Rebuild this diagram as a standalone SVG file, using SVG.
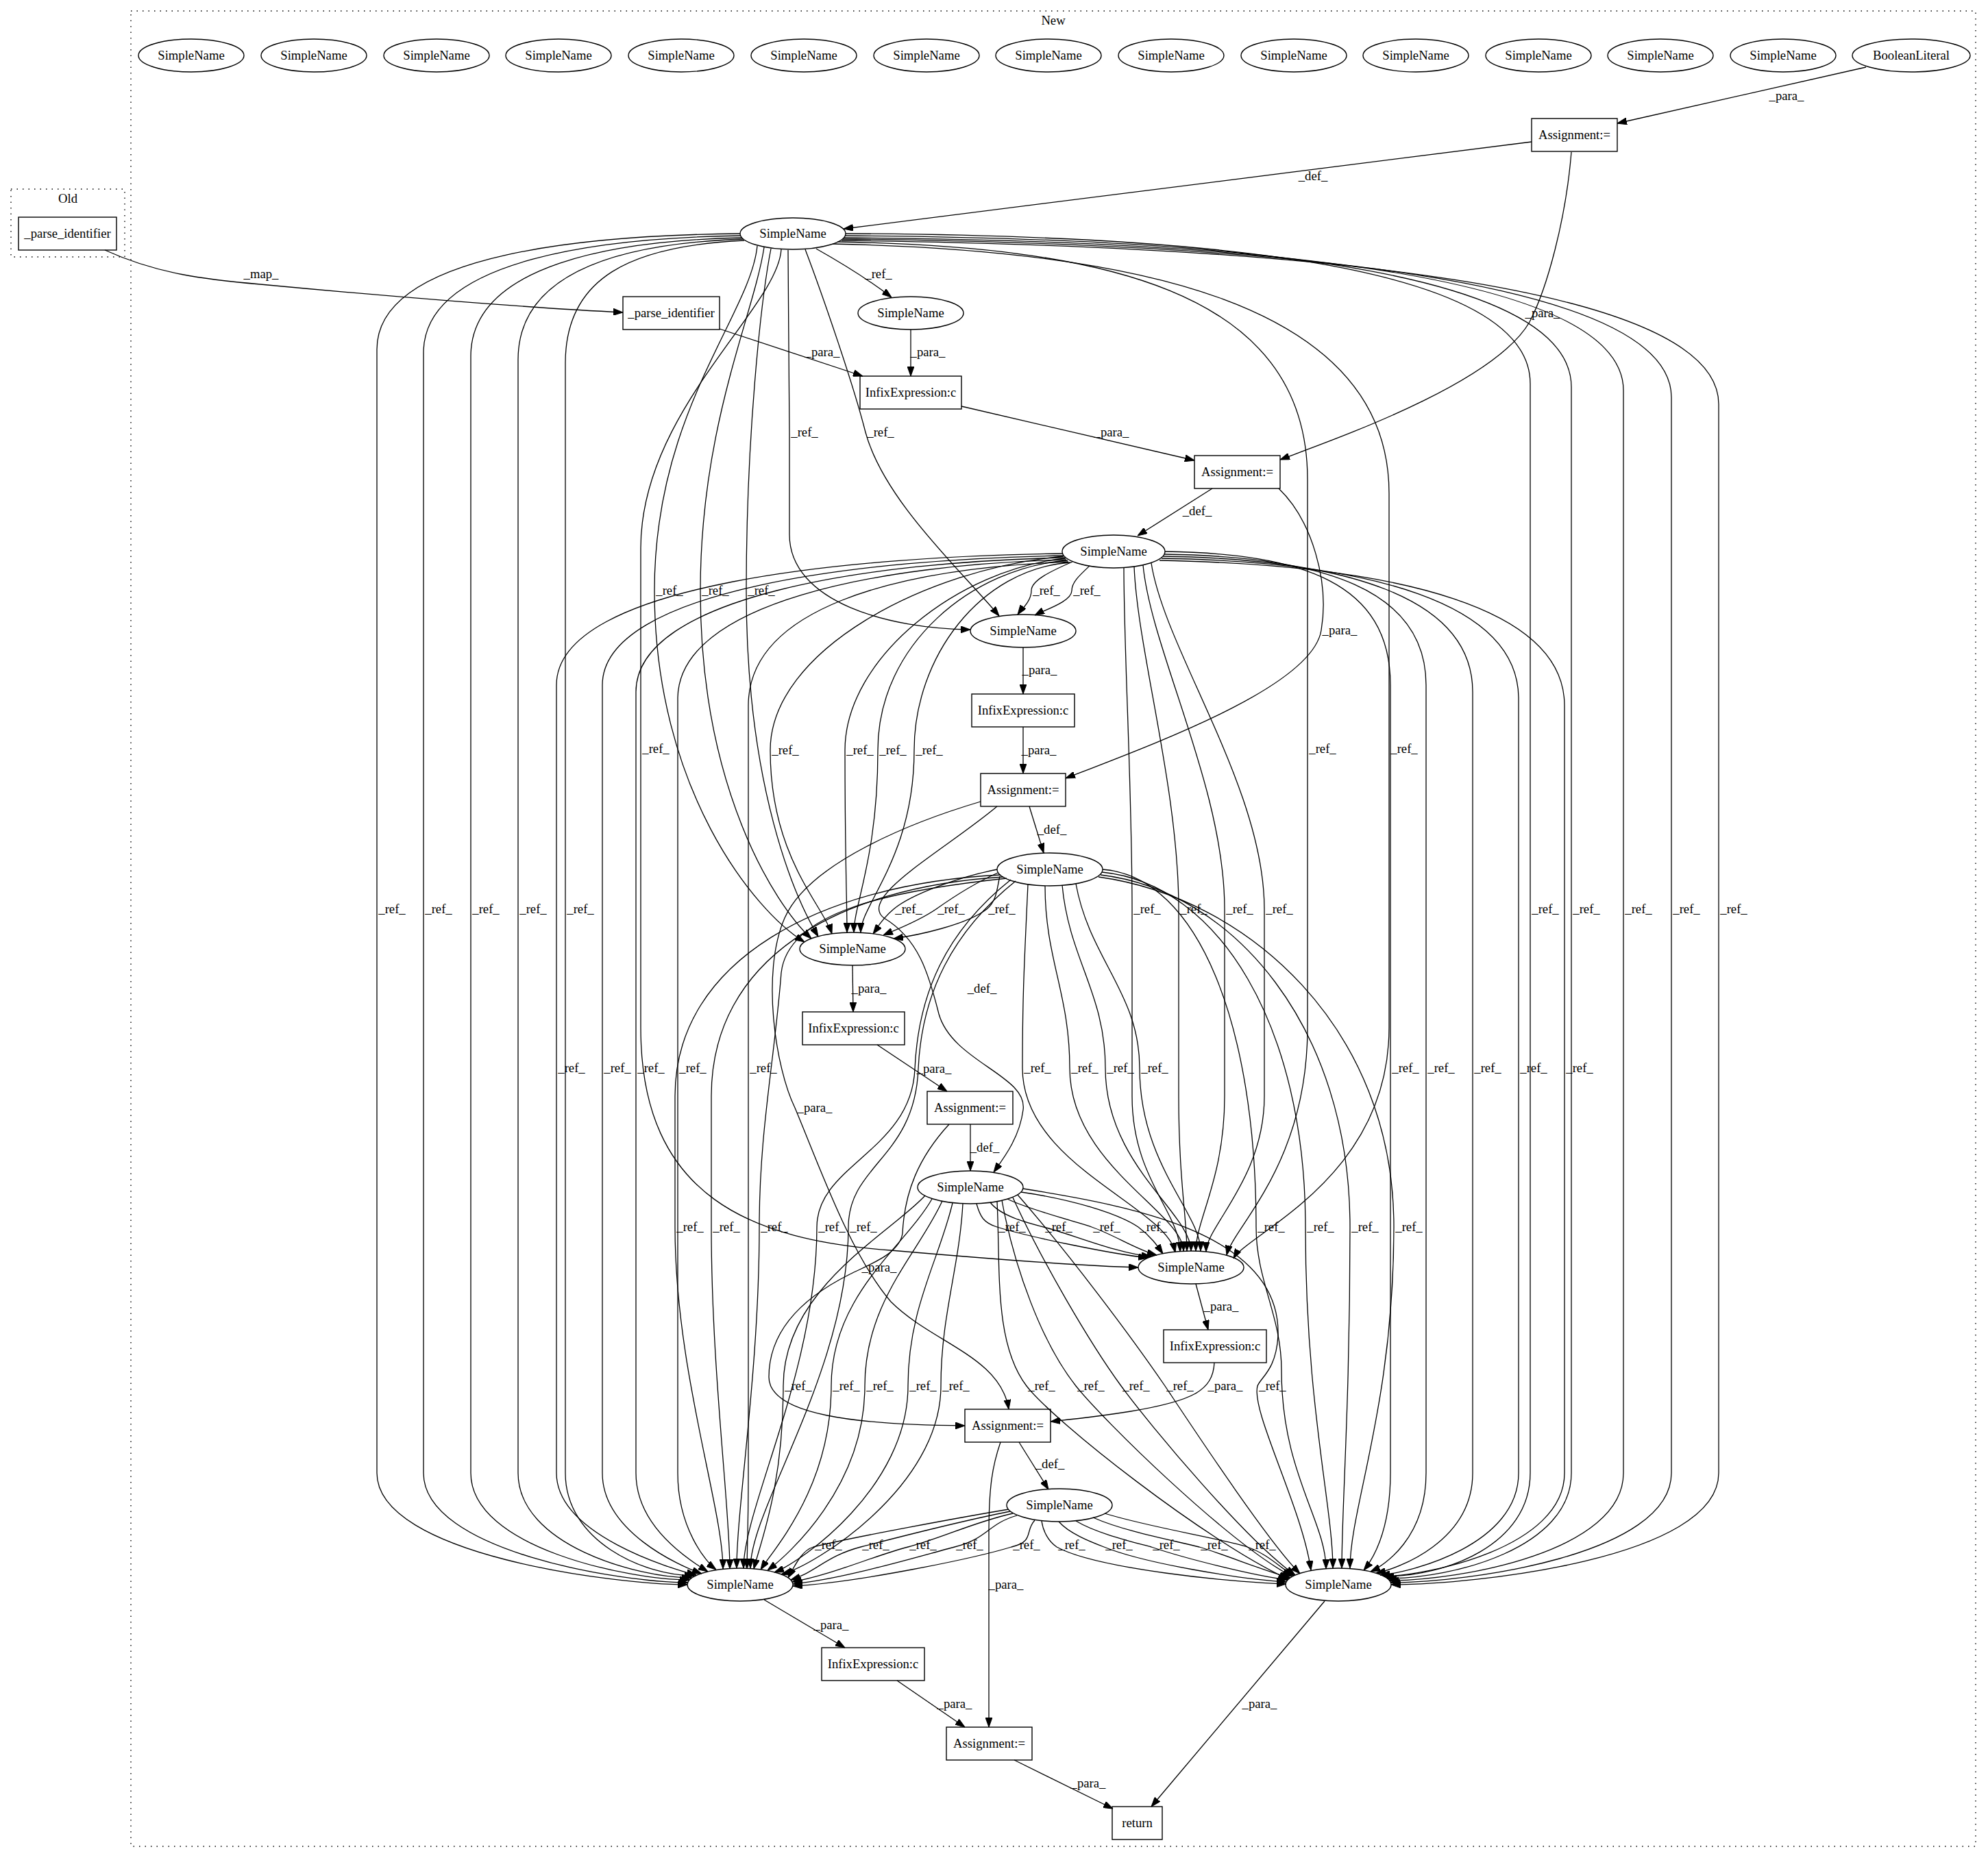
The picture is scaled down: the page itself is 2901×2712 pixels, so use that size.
<svg xmlns="http://www.w3.org/2000/svg" width="2901" height="2712" viewBox="0 0 2901 2712">
<defs>
<marker id="arr" markerUnits="userSpaceOnUse" viewBox="0 0 14 10" markerWidth="14" markerHeight="10" refX="14" refY="5" orient="auto"><path d="M0,0 L14,5 L0,10 z" fill="#000" stroke="#000" stroke-width="1"/></marker>
</defs>
<style>
text{font-family:"Liberation Serif","Times New Roman",serif;font-size:18.67px;text-anchor:middle;fill:#000}
.node ellipse,.node rect{fill:none;stroke:#000;stroke-width:1.4}
.cl{fill:none;stroke:#000;stroke-width:1.4;stroke-dasharray:1.5 7}
#edges path{fill:none;stroke:#000;stroke-width:1.3;marker-end:url(#arr)}
</style>
<rect width="2901" height="2712" fill="#fff"/>
<g id="cluster_old"><rect class="cl" x="16" y="276" width="166" height="99"/><text x="99" y="296">Old</text></g>
<g id="cluster_new"><rect class="cl" x="191" y="16" width="2692" height="2679"/><text x="1537" y="36">New</text></g>

<g id="nodes">
<g id="n_top1" class="node"><ellipse cx="279" cy="81" rx="77" ry="24"/><text x="279" y="87">SimpleName</text></g>
<g id="n_top2" class="node"><ellipse cx="458" cy="81" rx="77" ry="24"/><text x="458" y="87">SimpleName</text></g>
<g id="n_top3" class="node"><ellipse cx="637" cy="81" rx="77" ry="24"/><text x="637" y="87">SimpleName</text></g>
<g id="n_top4" class="node"><ellipse cx="815" cy="81" rx="77" ry="24"/><text x="815" y="87">SimpleName</text></g>
<g id="n_top5" class="node"><ellipse cx="994" cy="81" rx="77" ry="24"/><text x="994" y="87">SimpleName</text></g>
<g id="n_top6" class="node"><ellipse cx="1173" cy="81" rx="77" ry="24"/><text x="1173" y="87">SimpleName</text></g>
<g id="n_top7" class="node"><ellipse cx="1352" cy="81" rx="77" ry="24"/><text x="1352" y="87">SimpleName</text></g>
<g id="n_top8" class="node"><ellipse cx="1530" cy="81" rx="77" ry="24"/><text x="1530" y="87">SimpleName</text></g>
<g id="n_top9" class="node"><ellipse cx="1709" cy="81" rx="77" ry="24"/><text x="1709" y="87">SimpleName</text></g>
<g id="n_top10" class="node"><ellipse cx="1888" cy="81" rx="77" ry="24"/><text x="1888" y="87">SimpleName</text></g>
<g id="n_top11" class="node"><ellipse cx="2066" cy="81" rx="77" ry="24"/><text x="2066" y="87">SimpleName</text></g>
<g id="n_top12" class="node"><ellipse cx="2245" cy="81" rx="77" ry="24"/><text x="2245" y="87">SimpleName</text></g>
<g id="n_top13" class="node"><ellipse cx="2423" cy="81" rx="77" ry="24"/><text x="2423" y="87">SimpleName</text></g>
<g id="n_top14" class="node"><ellipse cx="2602" cy="81" rx="77" ry="24"/><text x="2602" y="87">SimpleName</text></g>
<g id="n_bool" class="node"><ellipse cx="2789" cy="81" rx="86" ry="24"/><text x="2789" y="87">BooleanLiteral</text></g>
<g id="n_asg1" class="node"><rect x="2235" y="173" width="125" height="48"/><text x="2297.5" y="203">Assignment:=</text></g>
<g id="n_a" class="node"><ellipse cx="1157" cy="341" rx="77" ry="23"/><text x="1157" y="347">SimpleName</text></g>
<g id="n_parse_old" class="node"><rect x="27" y="317" width="143" height="48"/><text x="98.5" y="347">_parse_identifier</text></g>
<g id="n_parse_new" class="node"><rect x="909" y="433" width="141" height="48"/><text x="979.5" y="463">_parse_identifier</text></g>
<g id="n_b" class="node"><ellipse cx="1329" cy="457" rx="77" ry="24"/><text x="1329" y="463">SimpleName</text></g>
<g id="n_infix1" class="node"><rect x="1255" y="549" width="148" height="48"/><text x="1329" y="579">InfixExpression:c</text></g>
<g id="n_asg2" class="node"><rect x="1743" y="665" width="125" height="48"/><text x="1805.5" y="695">Assignment:=</text></g>
<g id="n_c" class="node"><ellipse cx="1625" cy="805" rx="75" ry="24"/><text x="1625" y="811">SimpleName</text></g>
<g id="n_d" class="node"><ellipse cx="1493" cy="921" rx="77" ry="24"/><text x="1493" y="927">SimpleName</text></g>
<g id="n_infix2" class="node"><rect x="1418" y="1013" width="150" height="48"/><text x="1493" y="1043">InfixExpression:c</text></g>
<g id="n_asg3" class="node"><rect x="1431" y="1129" width="124" height="48"/><text x="1493" y="1159">Assignment:=</text></g>
<g id="n_e" class="node"><ellipse cx="1532" cy="1269" rx="77" ry="24"/><text x="1532" y="1275">SimpleName</text></g>
<g id="n_f" class="node"><ellipse cx="1244" cy="1385" rx="77" ry="24"/><text x="1244" y="1391">SimpleName</text></g>
<g id="n_infix3" class="node"><rect x="1171" y="1477" width="149" height="48"/><text x="1245.5" y="1507">InfixExpression:c</text></g>
<g id="n_asg4" class="node"><rect x="1353" y="1593" width="125" height="48"/><text x="1415.5" y="1623">Assignment:=</text></g>
<g id="n_g" class="node"><ellipse cx="1416" cy="1733" rx="77" ry="24"/><text x="1416" y="1739">SimpleName</text></g>
<g id="n_h" class="node"><ellipse cx="1738" cy="1850" rx="77" ry="24"/><text x="1738" y="1856">SimpleName</text></g>
<g id="n_infix4" class="node"><rect x="1698" y="1941" width="150" height="48"/><text x="1773" y="1971">InfixExpression:c</text></g>
<g id="n_asg5" class="node"><rect x="1408" y="2057" width="125" height="48"/><text x="1470.5" y="2087">Assignment:=</text></g>
<g id="n_i" class="node"><ellipse cx="1546" cy="2197" rx="77" ry="24"/><text x="1546" y="2203">SimpleName</text></g>
<g id="n_j" class="node"><ellipse cx="1080" cy="2313" rx="77" ry="24"/><text x="1080" y="2319">SimpleName</text></g>
<g id="n_k" class="node"><ellipse cx="1953" cy="2313" rx="77" ry="24"/><text x="1953" y="2319">SimpleName</text></g>
<g id="n_infix5" class="node"><rect x="1199" y="2405" width="150" height="48"/><text x="1274" y="2435">InfixExpression:c</text></g>
<g id="n_asg6" class="node"><rect x="1381" y="2521" width="125" height="48"/><text x="1443.5" y="2551">Assignment:=</text></g>
<g id="n_return" class="node"><rect x="1623" y="2637" width="73" height="48"/><text x="1659.5" y="2667">return</text></g>
</g>

<g id="edges">
<g class="edge"><path d="M2723,98 L2360,180"/><text x="2607" y="146">_para_</text></g>
<g class="edge"><path d="M2235,207 L1231,334"/><text x="1916" y="263">_def_</text></g>
<g class="edge"><path d="M2293,222 C2285,320 2258,420 2232,470 C2180,560 1950,640 1868,671"/><text x="2251" y="463">_para_</text></g>
<g class="edge"><path d="M153,365 C230,400 300,408 380,415 C560,432 780,450 909,456"/><text x="381" y="406">_map_</text></g>
<g class="edge"><path d="M1191,363 C1230,385 1270,410 1301,434"/><text x="1282" y="406">_ref_</text></g>
<g class="edge"><path d="M1329,481 L1329,549"/><text x="1354" y="520">_para_</text></g>
<g class="edge"><path d="M1050,480 L1259,549"/><text x="1200" y="520">_para_</text></g>
<g class="edge"><path d="M1403,593 L1743,672"/><text x="1622" y="637">_para_</text></g>
<g class="edge"><path d="M1769,713 L1660,782"/><text x="1747" y="752">_def_</text></g>
<g class="edge"><path d="M1866,713 C1915,760 1940,850 1928,920 C1915,1000 1700,1080 1555,1136"/><text x="1955" y="926">_para_</text></g>
<g class="edge"><path d="M1493,945 L1493,1013"/><text x="1517" y="984">_para_</text></g>
<g class="edge"><path d="M1493,1061 L1493,1129"/><text x="1516" y="1101">_para_</text></g>
<g class="edge"><path d="M1502,1177 L1523,1245"/><text x="1535" y="1217">_def_</text></g>
<g class="edge"><path d="M1244,1409 L1245,1477"/><text x="1268" y="1449">_para_</text></g>
<g class="edge"><path d="M1280,1525 L1382,1593"/><text x="1363" y="1566">_para_</text></g>
<g class="edge"><path d="M1455,1177 C1380,1240 1250,1310 1290,1340 C1340,1370 1355,1420 1370,1480 C1390,1550 1500,1570 1493,1620 C1488,1660 1465,1690 1450,1711"/><text x="1433" y="1449">_def_</text></g>
<g class="edge"><path d="M1416,1641 L1416,1709"/><text x="1437" y="1681">_def_</text></g>
<g class="edge"><path d="M1745,1874 L1763,1941"/><text x="1782" y="1913">_para_</text></g>
<g class="edge"><path d="M1772,1989 C1770,2030 1740,2045 1650,2060 C1600,2068 1560,2072 1533,2075"/><text x="1788" y="2029">_para_</text></g>
<g class="edge"><path d="M1487,2105 L1530,2174"/><text x="1532" y="2143">_def_</text></g>
<g class="edge"><path d="M1431,1170 C1330,1200 1180,1260 1145,1340 C1110,1420 1132,1560 1160,1617 C1195,1700 1240,1830 1300,1900 C1360,1960 1460,1980 1472,2057"/><text x="1189" y="1623">_para_</text></g>
<g class="edge"><path d="M1385,1641 C1340,1690 1320,1740 1317,1800 C1313,1830 1270,1845 1240,1860 C1160,1900 1122,1950 1122,2010 C1122,2065 1250,2080 1408,2081"/><text x="1283" y="1856">_para_</text></g>
<g class="edge"><path d="M1460,2105 C1448,2140 1443,2170 1443,2240 L1443,2521"/><text x="1468" y="2319">_para_</text></g>
<g class="edge"><path d="M1115,2335 L1233,2405"/><text x="1213" y="2378">_para_</text></g>
<g class="edge"><path d="M1309,2453 L1408,2521"/><text x="1393" y="2493">_para_</text></g>
<g class="edge"><path d="M1480,2569 L1624,2640"/><text x="1588" y="2609">_para_</text></g>
<g class="edge"><path d="M1933,2337 L1680,2637"/><text x="1838" y="2493">_para_</text></g>

<g class="edge"><path d="M1150,365 C1150,450 1152,550 1152,631 L1152,780 C1152,880 1300,918 1416,919"/><text x="1174" y="637">_ref_</text></g>
<g class="edge"><path d="M1175,364 C1200,430 1245,560 1263,631 C1290,730 1400,830 1458,899"/><text x="1285" y="637">_ref_</text></g>
<g class="edge"><path d="M1105,359 C1095,460 955,600 955,862 C955,1150 1100,1330 1174,1375"/><text x="977" y="868">_ref_</text></g>
<g class="edge"><path d="M1115,361 C1100,460 1022,620 1022,862 C1022,1150 1130,1320 1184,1370"/><text x="1044" y="868">_ref_</text></g>
<g class="edge"><path d="M1125,363 C1110,440 1089,640 1089,862 C1089,1150 1160,1310 1194,1367"/><text x="1111" y="868">_ref_</text></g>
<g class="edge"><path d="M1140,364 C1135,450 935,600 935,800 L935,1500 C935,1750 1100,1810 1300,1825 C1450,1838 1580,1848 1661,1850"/><text x="957" y="1099">_ref_</text></g>
<g class="edge"><path d="M1222,353 C1600,360 1908,420 1908,700 L1908,1500 C1908,1700 1800,1790 1790,1832"/><text x="1930" y="1099">_ref_</text></g>
<g class="edge"><path d="M1215,356 C1650,365 2027,440 2027,720 L2027,1500 C2027,1720 1820,1800 1800,1837"/><text x="2049" y="1099">_ref_</text></g>
<g class="edge"><path d="M1080,341 C880,343 550,365 550,510 L550,2150 C550,2270 900,2313 1003,2313"/><text x="572" y="1333">_ref_</text></g>
<g class="edge"><path d="M1081,344 C890,347 618,375 618,515 L618,2150 C618,2265 910,2310 1004,2310"/><text x="640" y="1333">_ref_</text></g>
<g class="edge"><path d="M1082,347 C900,351 687,385 687,520 L687,2150 C687,2260 920,2306 1006,2306"/><text x="709" y="1333">_ref_</text></g>
<g class="edge"><path d="M1084,349 C910,355 756,395 756,525 L756,2150 C756,2255 930,2303 1009,2303"/><text x="778" y="1333">_ref_</text></g>
<g class="edge"><path d="M1086,351 C920,359 825,405 825,530 L825,2150 C825,2250 940,2300 1013,2300"/><text x="847" y="1333">_ref_</text></g>
<g class="edge"><path d="M1234,341 C1700,343 2233,375 2233,560 L2233,2150 C2233,2255 2110,2301 2020,2301"/><text x="2255" y="1333">_ref_</text></g>
<g class="edge"><path d="M1233,344 C1750,347 2293,385 2293,565 L2293,2150 C2293,2260 2120,2304 2024,2304"/><text x="2315" y="1333">_ref_</text></g>
<g class="edge"><path d="M1232,347 C1800,351 2369,395 2369,570 L2369,2150 C2369,2265 2130,2307 2027,2307"/><text x="2391" y="1333">_ref_</text></g>
<g class="edge"><path d="M1230,349 C1850,355 2439,405 2439,580 L2439,2150 C2439,2270 2140,2310 2029,2310"/><text x="2461" y="1333">_ref_</text></g>
<g class="edge"><path d="M1228,351 C1900,359 2508,415 2508,590 L2508,2150 C2508,2275 2150,2313 2030,2313"/><text x="2530" y="1333">_ref_</text></g>

<g class="edge"><path d="M1565,820 C1530,835 1505,848 1505,862 C1505,878 1490,890 1485,897"/><text x="1527" y="868">_ref_</text></g>
<g class="edge"><path d="M1590,826 C1575,840 1564,850 1564,862 C1564,878 1525,890 1510,898"/><text x="1586" y="868">_ref_</text></g>
<g class="edge"><path d="M1552,812 C1350,830 1124,950 1124,1095 C1124,1250 1200,1320 1214,1363"/><text x="1146" y="1101">_ref_</text></g>
<g class="edge"><path d="M1555,815 C1400,830 1233,960 1233,1095 C1233,1250 1236,1320 1236,1361"/><text x="1255" y="1101">_ref_</text></g>
<g class="edge"><path d="M1558,818 C1420,828 1281,940 1281,1095 C1281,1250 1246,1320 1246,1361"/><text x="1303" y="1101">_ref_</text></g>
<g class="edge"><path d="M1562,821 C1430,830 1334,960 1334,1095 C1334,1250 1256,1320 1256,1361"/><text x="1356" y="1101">_ref_</text></g>
<g class="edge"><path d="M1640,829 C1640,950 1652,1150 1652,1327 L1652,1600 C1652,1720 1722,1770 1722,1827"/><text x="1674" y="1333">_ref_</text></g>
<g class="edge"><path d="M1655,827 C1660,950 1720,1150 1720,1327 L1720,1600 C1720,1720 1732,1780 1732,1826"/><text x="1742" y="1333">_ref_</text></g>
<g class="edge"><path d="M1668,825 C1680,950 1787,1150 1787,1327 L1787,1600 C1787,1720 1745,1780 1745,1826"/><text x="1809" y="1333">_ref_</text></g>
<g class="edge"><path d="M1680,822 C1700,950 1845,1150 1845,1327 L1845,1600 C1845,1720 1760,1790 1760,1827"/><text x="1867" y="1333">_ref_</text></g>
<g class="edge"><path d="M1551,808 C1250,812 812,850 812,1000 L812,2150 C812,2240 980,2290 1016,2299"/><text x="834" y="1565">_ref_</text></g>
<g class="edge"><path d="M1552,811 C1260,816 879,860 879,1000 L879,2150 C879,2235 990,2285 1024,2297"/><text x="901" y="1565">_ref_</text></g>
<g class="edge"><path d="M1554,814 C1270,820 928,870 928,1010 L928,2150 C928,2230 1010,2280 1033,2294"/><text x="950" y="1565">_ref_</text></g>
<g class="edge"><path d="M1556,817 C1280,824 989,880 989,1020 L989,2150 C989,2230 1030,2280 1045,2291"/><text x="1011" y="1565">_ref_</text></g>
<g class="edge"><path d="M1559,820 C1300,830 1092,890 1092,1030 L1092,2150 C1092,2230 1090,2270 1090,2290"/><text x="1114" y="1565">_ref_</text></g>
<g class="edge"><path d="M1700,805 C1900,808 2029,850 2029,1000 L2029,2150 C2029,2240 2000,2280 1990,2292"/><text x="2051" y="1565">_ref_</text></g>
<g class="edge"><path d="M1699,809 C1930,812 2081,860 2081,1000 L2081,2150 C2081,2245 2020,2285 2000,2294"/><text x="2103" y="1565">_ref_</text></g>
<g class="edge"><path d="M1697,812 C1960,816 2149,870 2149,1010 L2149,2150 C2149,2250 2040,2290 2008,2296"/><text x="2171" y="1565">_ref_</text></g>
<g class="edge"><path d="M1695,815 C2000,820 2216,880 2216,1020 L2216,2150 C2216,2255 2060,2295 2014,2299"/><text x="2238" y="1565">_ref_</text></g>
<g class="edge"><path d="M1692,818 C2050,825 2283,890 2283,1030 L2283,2150 C2283,2260 2080,2300 2019,2301"/><text x="2305" y="1565">_ref_</text></g>

<g class="edge"><path d="M1455,1269 C1400,1280 1330,1305 1304,1327 C1285,1343 1280,1355 1274,1363"/><text x="1326" y="1333">_ref_</text></g>
<g class="edge"><path d="M1456,1274 C1420,1290 1390,1310 1366,1327 C1340,1345 1305,1358 1289,1365"/><text x="1388" y="1333">_ref_</text></g>
<g class="edge"><path d="M1459,1279 C1455,1295 1455,1315 1440,1327 C1410,1350 1340,1365 1304,1370"/><text x="1462" y="1333">_ref_</text></g>
<g class="edge"><path d="M1500,1291 C1495,1400 1492,1450 1492,1559 C1492,1700 1700,1760 1715,1828"/><text x="1514" y="1565">_ref_</text></g>
<g class="edge"><path d="M1525,1293 C1525,1400 1561,1450 1561,1559 C1561,1700 1727,1770 1727,1826"/><text x="1583" y="1565">_ref_</text></g>
<g class="edge"><path d="M1550,1292 C1560,1400 1613,1450 1613,1559 C1613,1700 1738,1770 1738,1826"/><text x="1635" y="1565">_ref_</text></g>
<g class="edge"><path d="M1570,1290 C1590,1400 1663,1450 1663,1559 C1663,1700 1752,1770 1752,1826"/><text x="1685" y="1565">_ref_</text></g>
<g class="edge"><path d="M1460,1277 C1200,1290 985,1400 985,1600 L985,1791 C985,2000 1055,2200 1055,2290"/><text x="1007" y="1797">_ref_</text></g>
<g class="edge"><path d="M1464,1280 C1220,1295 1038,1400 1038,1600 L1038,1791 C1038,2000 1065,2200 1065,2290"/><text x="1060" y="1797">_ref_</text></g>
<g class="edge"><path d="M1469,1282 C1300,1300 1150,1330 1140,1420 C1130,1550 1108,1650 1108,1791 C1108,2000 1075,2200 1075,2289"/><text x="1130" y="1797">_ref_</text></g>
<g class="edge"><path d="M1475,1284 C1380,1360 1340,1450 1335,1560 C1330,1680 1192,1700 1192,1791 C1192,2000 1085,2200 1085,2289"/><text x="1214" y="1797">_ref_</text></g>
<g class="edge"><path d="M1482,1286 C1390,1360 1345,1450 1340,1560 C1335,1690 1238,1700 1238,1791 C1238,2000 1095,2200 1095,2289"/><text x="1260" y="1797">_ref_</text></g>
<g class="edge"><path d="M1609,1269 C1750,1280 1833,1500 1833,1791 C1833,1870 1870,1920 1870,2000 C1870,2150 1935,2220 1935,2290"/><text x="1855" y="1797">_ref_</text></g>
<g class="edge"><path d="M1608,1273 C1780,1290 1905,1500 1905,1791 C1905,2050 1945,2200 1945,2289"/><text x="1927" y="1797">_ref_</text></g>
<g class="edge"><path d="M1606,1277 C1800,1300 1970,1500 1970,1791 C1970,2050 1958,2200 1958,2289"/><text x="1992" y="1797">_ref_</text></g>
<g class="edge"><path d="M1603,1280 C1820,1310 2034,1500 2034,1791 C2034,2050 1970,2200 1970,2289"/><text x="2056" y="1797">_ref_</text></g>

<g class="edge"><path d="M1425,1757 C1430,1775 1435,1785 1455,1791 C1500,1805 1620,1830 1675,1836"/><text x="1477" y="1797">_ref_</text></g>
<g class="edge"><path d="M1445,1755 C1460,1775 1500,1785 1523,1791 C1560,1800 1630,1830 1680,1834"/><text x="1545" y="1797">_ref_</text></g>
<g class="edge"><path d="M1470,1750 C1500,1765 1560,1780 1593,1791 C1625,1802 1660,1825 1688,1832"/><text x="1615" y="1797">_ref_</text></g>
<g class="edge"><path d="M1490,1740 C1560,1750 1630,1770 1661,1791 C1680,1805 1690,1820 1697,1830"/><text x="1683" y="1797">_ref_</text></g>
<g class="edge"><path d="M1350,1745 C1300,1800 1143,1880 1143,2023 C1143,2170 1110,2250 1100,2290"/><text x="1165" y="2029">_ref_</text></g>
<g class="edge"><path d="M1360,1750 C1320,1820 1213,1890 1213,2023 C1213,2170 1130,2260 1110,2291"/><text x="1235" y="2029">_ref_</text></g>
<g class="edge"><path d="M1375,1753 C1340,1830 1262,1900 1262,2023 C1262,2170 1150,2270 1120,2292"/><text x="1284" y="2029">_ref_</text></g>
<g class="edge"><path d="M1390,1756 C1370,1840 1325,1910 1325,2023 C1325,2170 1170,2280 1130,2295"/><text x="1347" y="2029">_ref_</text></g>
<g class="edge"><path d="M1405,1757 C1400,1850 1373,1920 1373,2023 C1373,2170 1190,2285 1140,2298"/><text x="1395" y="2029">_ref_</text></g>
<g class="edge"><path d="M1455,1754 C1460,1850 1450,1960 1498,2023 C1536,2073 1760,2250 1880,2305"/><text x="1520" y="2029">_ref_</text></g>
<g class="edge"><path d="M1462,1752 C1480,1850 1520,1960 1570,2023 C1610,2073 1790,2250 1885,2301"/><text x="1592" y="2029">_ref_</text></g>
<g class="edge"><path d="M1478,1748 C1520,1840 1590,1960 1636,2023 C1680,2083 1820,2250 1890,2299"/><text x="1658" y="2029">_ref_</text></g>
<g class="edge"><path d="M1485,1744 C1560,1830 1650,1950 1700,2023 C1740,2083 1850,2250 1897,2297"/><text x="1722" y="2029">_ref_</text></g>
<g class="edge"><path d="M1493,1735 C1650,1760 1870,1800 1865,1950 C1862,2000 1840,2010 1835,2023 C1825,2060 1900,2200 1913,2292"/><text x="1857" y="2029">_ref_</text></g>

<g class="edge"><path d="M1472,2203 C1412,2213 1237,2245 1187,2258 C1170,2263 1160,2285 1150,2303"/><text x="1209" y="2261">_ref_</text></g>
<g class="edge"><path d="M1474,2206 C1414,2218 1306,2245 1256,2258 C1206,2271 1190,2295 1154,2306"/><text x="1278" y="2261">_ref_</text></g>
<g class="edge"><path d="M1478,2209 C1420,2222 1375,2245 1325,2258 C1275,2271 1210,2300 1156,2309"/><text x="1347" y="2261">_ref_</text></g>
<g class="edge"><path d="M1484,2212 C1440,2225 1443,2245 1393,2258 C1343,2271 1230,2305 1157,2312"/><text x="1415" y="2261">_ref_</text></g>
<g class="edge"><path d="M1510,2219 C1495,2235 1510,2250 1476,2258 C1420,2275 1250,2310 1157,2315"/><text x="1498" y="2261">_ref_</text></g>
<g class="edge"><path d="M1520,2220 C1522,2235 1530,2250 1542,2258 C1600,2290 1800,2310 1877,2312"/><text x="1564" y="2261">_ref_</text></g>
<g class="edge"><path d="M1545,2221 C1560,2238 1590,2250 1611,2258 C1670,2282 1810,2305 1877,2309"/><text x="1633" y="2261">_ref_</text></g>
<g class="edge"><path d="M1570,2220 C1600,2238 1650,2250 1680,2258 C1730,2275 1830,2300 1879,2306"/><text x="1702" y="2261">_ref_</text></g>
<g class="edge"><path d="M1595,2215 C1640,2235 1710,2248 1750,2258 C1790,2270 1850,2295 1883,2303"/><text x="1772" y="2261">_ref_</text></g>
<g class="edge"><path d="M1612,2209 C1680,2230 1780,2245 1820,2258 C1850,2268 1870,2290 1888,2300"/><text x="1842" y="2261">_ref_</text></g>
</g>
</svg>
